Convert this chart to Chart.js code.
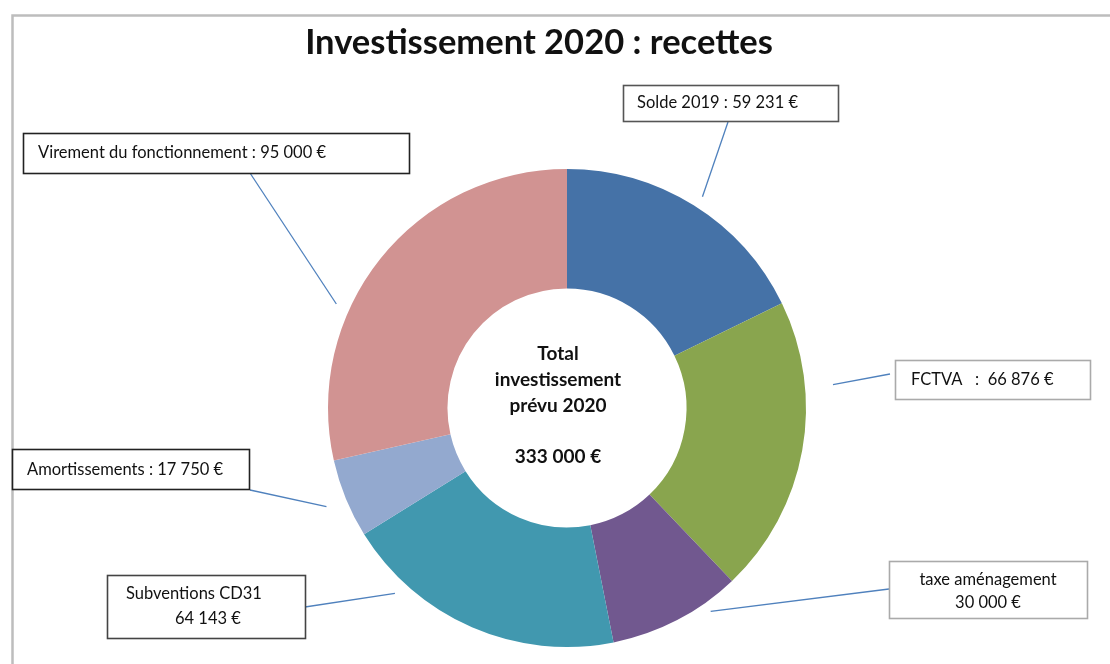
<!DOCTYPE html>
<html>
<head>
<meta charset="utf-8">
<script src="https://cdn.jsdelivr.net/npm/chart.js@4.4.1/dist/chart.umd.min.js"></script>
<style>
  html, body { margin: 0; padding: 0; background: #fff; }
  #wrap { width: 1110px; height: 664px; position: relative; }
</style>
</head>
<body>
<div id="wrap"><canvas id="chart" width="1110" height="664"></canvas></div>
<script>
const chartTitle = 'Investissement 2020 : recettes';
const categories = ['Solde 2019', 'FCTVA', 'taxe aménagement', 'Subventions CD31', 'Amortissements', 'Virement du fonctionnement'];
const values = [59231, 66876, 30000, 64143, 17750, 95000];
const colors = ['#4572A7', '#89A54E', '#71588F', '#4198AF', '#93A9CF', '#D19392'];
const centerLines = ['Total', 'investissement', 'prévu 2020'];

const FONT = 'Lato, "Open Sans", sans-serif';

function euro(n) {
  return String(n).replace(/\B(?=(\d{3})+(?!\d))/g, ' ') + ' €';
}

// callout boxes: box rect, text layout, where the leader line touches the box,
// and where on the slice (fraction of its angle, gap beyond outer radius) it points
const callouts = [
  { box: [623, 85, 215, 36], border: '#555', align: 'left', tx: [637], ty: [103],
    lines: (c, v) => [c + ' : ' + euro(v)], from: [728, 122], frac: 0.51, gap: 12 },
  { box: [895, 360, 195, 39], border: '#aaa', align: 'left', tx: [911], ty: [380],
    lines: (c, v) => [c + '   :  ' + euro(v)], from: [890, 374], frac: 0.29, gap: 28 },
  { box: [889, 561, 198, 57], border: '#aaa', align: 'center', tx: [988, 988], ty: [580, 603],
    lines: (c, v) => [c, euro(v)], from: [889, 589], frac: 0.26, gap: 10 },
  { box: [107, 575, 198, 63], border: '#444', align: 'left', tx: [126, 175], ty: [594, 619],
    lines: (c, v) => [c, euro(v)], from: [305, 607], frac: 0.78, gap: 14 },
  { box: [12, 449, 237, 40], border: '#222', align: 'left', tx: [27], ty: [470],
    lines: (c, v) => [c + ' : ' + euro(v)], from: [250, 490], frac: 0.5, gap: 21 },
  { box: [23, 133, 386, 40], border: '#222', align: 'left', tx: [38], ty: [153],
    lines: (c, v) => [c + ' : ' + euro(v)], from: [250, 173], frac: 0.36, gap: 14 }
];

const decorations = {
  id: 'decorations',
  afterDraw(chart) {
    const ctx = chart.ctx;
    const meta = chart.getDatasetMeta(0);
    ctx.save();

    // outer frame (only top and left edges are visible)
    ctx.strokeStyle = '#bdbdbd';
    ctx.lineWidth = 2.5;
    ctx.beginPath();
    ctx.moveTo(1110, 15.5);
    ctx.lineTo(12.5, 15.5);
    ctx.lineTo(12.5, 664);
    ctx.stroke();

    // title
    ctx.fillStyle = '#111';
    ctx.font = 'bold 34.5px ' + FONT;
    ctx.textAlign = 'center';
    ctx.textBaseline = 'middle';
    ctx.fillText(chartTitle, 539, 43);

    // centre text
    const arc0 = meta.data[0];
    const cx = arc0.x - 9;
    const cy = arc0.y;
    ctx.font = 'bold 19px ' + FONT;
    centerLines.forEach((t, i) => ctx.fillText(t, cx, cy - 54 + i * 26));
    const total = values.reduce((a, b) => a + b, 0);
    ctx.fillText(euro(total), cx, cy + 49);

    // callouts
    callouts.forEach((c, i) => {
      const arc = meta.data[i];
      const p = arc.getProps(['x', 'y', 'startAngle', 'endAngle', 'outerRadius'], true);
      const a = p.startAngle + (p.endAngle - p.startAngle) * c.frac;
      const r = p.outerRadius + c.gap;
      const ex = p.x + Math.cos(a) * r;
      const ey = p.y + Math.sin(a) * r;

      ctx.strokeStyle = '#4F81BD';
      ctx.lineWidth = 1.3;
      ctx.beginPath();
      ctx.moveTo(c.from[0], c.from[1]);
      ctx.lineTo(ex, ey);
      ctx.stroke();

      const [bx, by, bw, bh] = c.box;
      ctx.fillStyle = '#fff';
      ctx.fillRect(bx, by, bw, bh);
      ctx.strokeStyle = c.border;
      ctx.lineWidth = 1.6;
      ctx.strokeRect(bx + 0.5, by + 0.5, bw, bh);

      ctx.fillStyle = '#111';
      ctx.font = '16.5px ' + FONT;
      ctx.textAlign = c.align;
      ctx.textBaseline = 'middle';
      c.lines(categories[i], values[i]).forEach((t, k) => ctx.fillText(t, c.tx[k], c.ty[k]));
    });

    ctx.restore();
  }
};

new Chart(document.getElementById('chart'), {
  type: 'doughnut',
  data: {
    labels: categories,
    datasets: [{
      data: values,
      backgroundColor: colors,
      borderWidth: 0
    }]
  },
  options: {
    responsive: false,
    animation: false,
    cutout: '50%',
    layout: {
      padding: { top: 169, bottom: 17, left: 328, right: 304 }
    },
    plugins: {
      legend: { display: false },
      tooltip: { enabled: false },
      title: { display: false }
    }
  },
  plugins: [decorations]
});
</script>
</body>
</html>
